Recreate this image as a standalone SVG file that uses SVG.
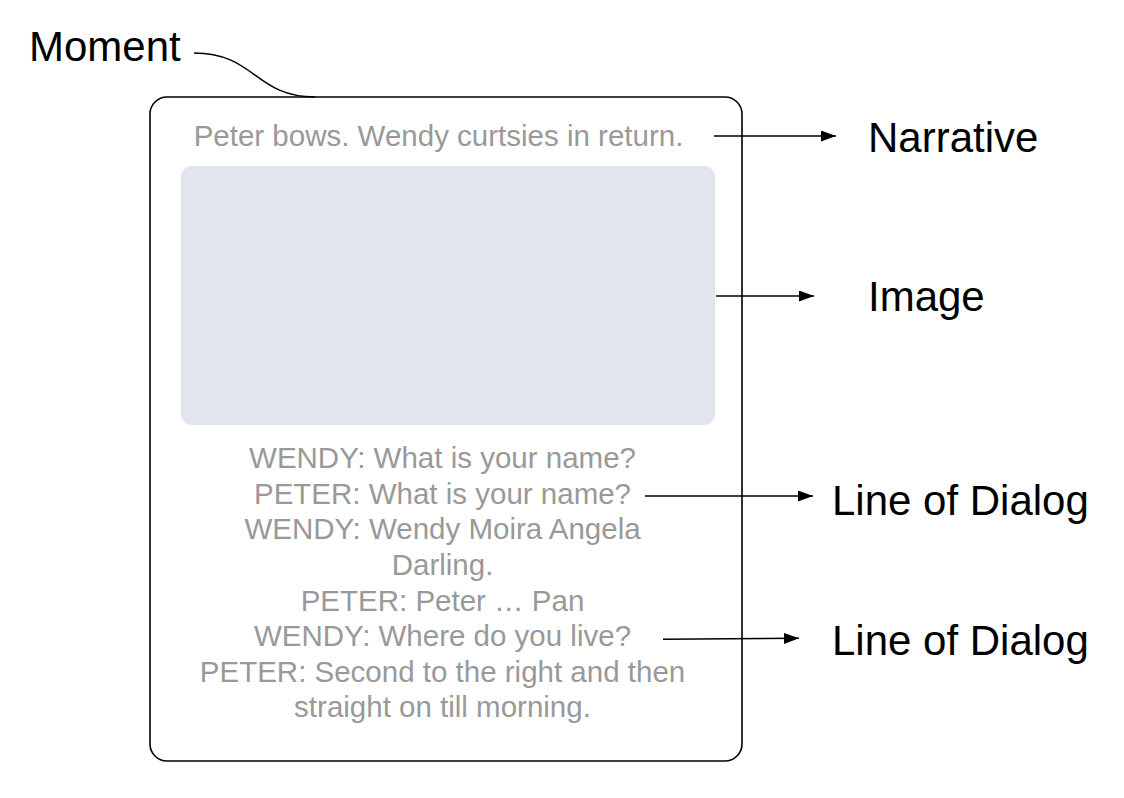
<svg xmlns="http://www.w3.org/2000/svg" width="1124" height="798" viewBox="0 0 1124 798">
<style>
.lbl{font-family:"Liberation Sans",Arial,sans-serif;font-size:42px;fill:#000}
.gray{font-family:"Liberation Sans",Arial,sans-serif;font-size:29.5px;fill:#999999;text-anchor:middle}
.conn{fill:none;stroke:#000;stroke-width:1.5}
</style>
<defs>
<marker id="ah" markerWidth="15" markerHeight="11" refX="15" refY="5.5" orient="auto" markerUnits="userSpaceOnUse">
<path d="M0,0 L15,5.5 L0,11 Z" fill="#000"/>
</marker>
</defs>
<rect width="1124" height="798" fill="#fff"/>
<g id="moment">
<rect x="150" y="97" width="592" height="664" rx="17" fill="#fff" stroke="#000" stroke-width="1.6"/>
</g>
<g id="image">
<rect x="181" y="166" width="534" height="259" rx="11" fill="#e1e6ee"/>
</g>
<g id="narrative-text">
<text class="gray" x="438.5" y="146">Peter bows. Wendy curtsies in return.</text>
</g>
<g id="dialog-text">
<text class="gray" x="442.5" y="468">WENDY: What is your name?</text>
<text class="gray" x="442.5" y="504">PETER: What is your name?</text>
<text class="gray" x="442.5" y="539">WENDY: Wendy Moira Angela</text>
<text class="gray" x="442.5" y="575">Darling.</text>
<text class="gray" x="442.5" y="611">PETER: Peter … Pan</text>
<text class="gray" x="442.5" y="646">WENDY: Where do you live?</text>
<text class="gray" x="442.5" y="682">PETER: Second to the right and then</text>
<text class="gray" x="442.5" y="717">straight on till morning.</text>
</g>
<g id="labels">
<text class="lbl" x="29" y="61">Moment</text>
<text class="lbl" x="868" y="152">Narrative</text>
<text class="lbl" x="868" y="311">Image</text>
<text class="lbl" x="832" y="515">Line of Dialog</text>
<text class="lbl" x="832" y="655">Line of Dialog</text>
</g>
<g id="connectors">
<path class="conn" d="M194,53 C255,53 255,97 315,97"/>
<path class="conn" d="M714,136 L836,136" marker-end="url(#ah)"/>
<path class="conn" d="M716,296 L814,296" marker-end="url(#ah)"/>
<path class="conn" d="M645,496 L813,496" marker-end="url(#ah)"/>
<path class="conn" d="M663,639.3 L799,638.3" marker-end="url(#ah)"/>
</g>
</svg>
